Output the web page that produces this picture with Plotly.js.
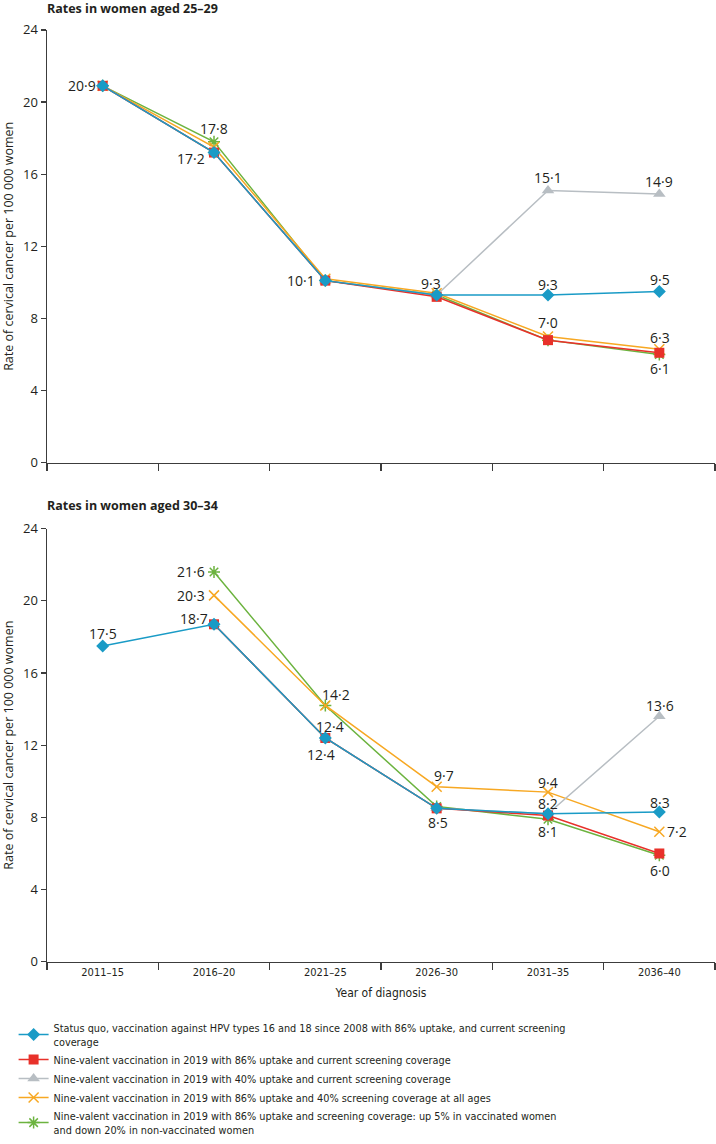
<!DOCTYPE html>
<html>
<head>
<meta charset="utf-8">
<script src="https://cdn.plot.ly/plotly-3.0.1.min.js"></script>
<style>html,body{margin:0;padding:0;background:#fff;}#chart{width:716px;height:1144px;}</style>
</head>
<body>
<div id="chart"></div>
<script>
// ---------- DATA ----------
const periods = ["2011–15", "2016–20", "2021–25", "2026–30", "2031–35", "2036–40"];

const seriesNames = [
  "Status quo, vaccination against HPV types 16 and 18 since 2008 with 86% uptake, and current screening<br>coverage",
  "Nine-valent vaccination in 2019 with 86% uptake and current screening coverage",
  "Nine-valent vaccination in 2019 with 40% uptake and current screening coverage",
  "Nine-valent vaccination in 2019 with 86% uptake and 40% screening coverage at all ages",
  "Nine-valent vaccination in 2019 with 86% uptake and screening coverage: up 5% in vaccinated women<br>and down 20% in non-vaccinated women"
];

// Rates in women aged 25–29
const top_statusQuo   = [20.9, 17.2, 10.1, 9.3, 9.3, 9.5];
const top_nine86      = [20.9, 17.2, 10.1, 9.2, 6.8, 6.1];
const top_nine40      = [20.9, 17.2, 10.1, 9.3, 15.1, 14.9];
const top_screen40    = [20.9, 17.5, 10.2, 9.4, 7.0, 6.3];
const top_screenShift = [20.9, 17.8, 10.1, 9.3, 6.8, 6.0];

// Rates in women aged 30–34
const bot_statusQuo   = [17.5, 18.7, 12.4, 8.5, 8.2, 8.3];
const bot_nine86      = [null, 18.7, 12.4, 8.5, 8.1, 6.0];
const bot_nine40      = [null, 18.7, 12.4, 8.5, 8.2, 13.6];
const bot_screen40    = [null, 20.3, 14.2, 9.7, 9.4, 7.2];
const bot_screenShift = [null, 21.6, 14.2, 8.6, 7.9, 5.9];

const panelTitles = ["Rates in women aged 25–29", "Rates in women aged 30–34"];
const yTitle = "Rate of cervical cancer per 100 000 women";
const xTitle = "Year of diagnosis";

// ---------- STYLE ----------
const FONT = "Open Sans, Noto Sans, sans-serif";
const NARROW = "DejaVu Sans Condensed, Liberation Sans, sans-serif";
const TXT = "#231f20";
const AX = "#3c3c3c";

const styles = [
  {color: "#1a9bc6", symbol: "diamond", size: 10},
  {color: "#e8312a", symbol: "square", size: 10},
  {color: "#b8bec3", symbol: "triangle-up", size: 11},
  {color: "#f7a823", symbol: "x-thin-open", size: 10},
  {color: "#6cb33f", symbol: "asterisk-open", size: 10}
];

const topSeries = [top_statusQuo, top_nine86, top_nine40, top_screen40, top_screenShift];
const botSeries = [bot_statusQuo, bot_nine86, bot_nine40, bot_screen40, bot_screenShift];

// labels: [series index, point index, xshift, yshift, xanchor]
const topLabels = [
  [0, 0, -5, 0, "right"],
  [4, 1, 0, 13, "center"],
  [1, 1, -7, -6, "right"],
  [1, 2, -8, 0, "right"],
  [0, 3, -6, 12, "center"],
  [2, 4, 0, 13, "center"],
  [2, 5, 0, 13, "center"],
  [0, 4, 0, 11, "center"],
  [0, 5, 1, 12, "center"],
  [3, 4, 0, 14, "center"],
  [3, 5, 1, 12, "center"],
  [1, 5, 1, -16, "center"]
];
const botLabels = [
  [0, 0, 0, 12, "center"],
  [0, 1, -4, 6, "right"],
  [3, 1, -7, 0, "right"],
  [4, 1, -7, 0, "right"],
  [3, 2, 11, 11, "center"],
  [1, 2, 5, 11, "center"],
  [0, 2, -4, -17, "center"],
  [3, 3, 7, 11, "center"],
  [0, 3, 1, -14, "center"],
  [3, 4, 0, 10, "center"],
  [0, 4, 0, 10, "center"],
  [1, 4, 0, -16, "center"],
  [2, 5, 1, 11, "center"],
  [0, 5, 1, 9, "center"],
  [3, 5, 6, 0, "left"],
  [1, 5, 1, -17, "center"]
];

function fmt(v) { return v.toFixed(1).replace(".", "·"); }

const traces = [];
// draw back-to-front: last series first, status quo last
for (let i = 4; i >= 0; i--) {
  const st = styles[i];
  const isX = st.symbol.indexOf("open") >= 0;
  const common = {
    type: "scatter", mode: "lines+markers", x: periods,
    name: seriesNames[i], legendrank: i + 1,
    line: {color: st.color, width: 1.5},
    marker: {symbol: st.symbol, size: st.size, color: st.color,
             line: {color: st.color, width: isX ? 1.5 : 0}},
    connectgaps: false, hoverinfo: "skip", cliponaxis: false
  };
  traces.push(Object.assign({}, common, {y: topSeries[i], xaxis: "x", yaxis: "y", showlegend: true}));
  traces.push(Object.assign({}, common, {y: botSeries[i], xaxis: "x2", yaxis: "y2", showlegend: false}));
}

const annotations = [];
function addLabels(list, series, xref, yref) {
  list.forEach(l => {
    const v = series[l[0]][l[1]];
    annotations.push({
      xref: xref, yref: yref, x: periods[l[1]], y: v, text: fmt(v),
      showarrow: false, xshift: l[2], yshift: l[3], xanchor: l[4], yanchor: "middle",
      font: {family: FONT, size: 14, color: TXT}
    });
  });
}
addLabels(topLabels, topSeries, "x", "y");
addLabels(botLabels, botSeries, "x2", "y2");

// panel titles
annotations.push({xref: "paper", yref: "paper", x: -0.003, y: 1 - 8.5 / 1144, xanchor: "left", yanchor: "middle",
  text: "<b>" + panelTitles[0] + "</b>", showarrow: false, font: {family: FONT, size: 12.5, color: TXT}});
annotations.push({xref: "paper", yref: "paper", x: -0.003, y: 1 - 507 / 1144, xanchor: "left", yanchor: "middle",
  text: "<b>" + panelTitles[1] + "</b>", showarrow: false, font: {family: FONT, size: 12.5, color: TXT}});

const H = 1144;
function yAxis(domain, anchor) {
  return {
    domain: domain, anchor: anchor, range: [0, 24], dtick: 4, tick0: 0,
    showgrid: false, zeroline: false, showline: true, linecolor: AX, linewidth: 1.5,
    ticks: "outside", ticklen: 5, tickwidth: 1.2, tickcolor: AX,
    tickfont: {family: FONT, size: 13, color: TXT},
    title: {text: yTitle, font: {family: FONT, size: 12.5, color: TXT}, standoff: 12}
  };
}
function xAxis(anchor, labels) {
  return {
    anchor: anchor, type: "category", range: [-0.5, 5.5], tickson: "boundaries",
    showgrid: false, zeroline: false, showline: true, linecolor: AX, linewidth: 1.5,
    ticks: "outside", ticklen: 7, tickwidth: 1.2, tickcolor: AX,
    showticklabels: labels,
    tickfont: {family: NARROW, size: 11, color: TXT},
    title: labels ? {text: xTitle, font: {family: NARROW, size: 12, color: TXT}, standoff: 10} : {text: ""}
  };
}

const layout = {
  width: 716, height: H,
  margin: {l: 47, r: 1, t: 0, b: 0},
  paper_bgcolor: "#fff", plot_bgcolor: "#fff",
  font: {family: FONT, color: TXT},
  xaxis: xAxis("y", false),
  xaxis2: xAxis("y2", true),
  yaxis: yAxis([1 - 464 / H, 1 - 30 / H], "x"),
  yaxis2: yAxis([1 - 964.3 / H, 1 - 530 / H], "x2"),
  showlegend: true,
  legend: {
    x: -0.05, y: 1 - 1017 / H, xanchor: "left", yanchor: "top",
    orientation: "v", itemwidth: 30, tracegroupgap: 0, maxheight: 300,
    font: {family: NARROW, size: 10.8, color: TXT},
    bgcolor: "rgba(0,0,0,0)", traceorder: "normal"
  },
  annotations: annotations
};

Plotly.newPlot("chart", traces, layout, {staticPlot: true, displayModeBar: false});
</script>
</body>
</html>
